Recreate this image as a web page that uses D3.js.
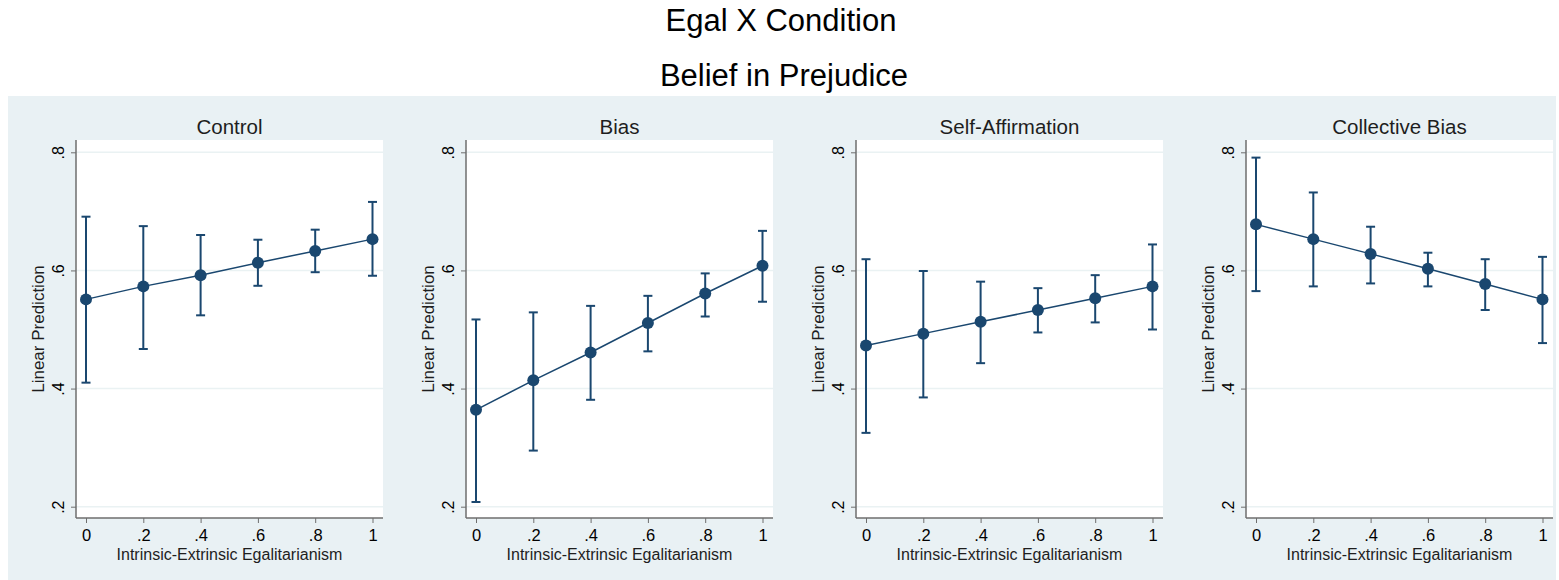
<!DOCTYPE html>
<html lang="en">
<head>
<meta charset="UTF-8">
<title>Egal X Condition</title>
<style>
  body { margin: 0; background: #fff; }
  text { font-family: "Liberation Sans", Arial, sans-serif; }
</style>
</head>
<body>
<script src="https://d3js.org/d3.v7.min.js"></script>
<script>
// values (Stata style)
var conditions = ["Control", "Bias", "Self-Affirmation", "Collective Bias"];
var egal = [0, 0.2, 0.4, 0.6, 0.8, 1];

var control   = [0.551, 0.573, 0.592, 0.613, 0.633, 0.653];
var controlLo = [0.410, 0.467, 0.524, 0.574, 0.597, 0.591];
var controlHi = [0.691, 0.675, 0.660, 0.652, 0.669, 0.716];

var bias   = [0.364, 0.414, 0.461, 0.511, 0.561, 0.608];
var biasLo = [0.208, 0.295, 0.381, 0.463, 0.522, 0.547];
var biasHi = [0.517, 0.529, 0.540, 0.557, 0.595, 0.667];

var selfAff   = [0.473, 0.493, 0.513, 0.533, 0.553, 0.573];
var selfAffLo = [0.325, 0.385, 0.443, 0.495, 0.512, 0.500];
var selfAffHi = [0.619, 0.599, 0.581, 0.570, 0.592, 0.644];

var collBias   = [0.678, 0.653, 0.628, 0.603, 0.577, 0.551];
var collBiasLo = [0.565, 0.573, 0.578, 0.573, 0.533, 0.477];
var collBiasHi = [0.791, 0.732, 0.674, 0.630, 0.619, 0.623];

var yTicks = [0.2, 0.4, 0.6, 0.8];
var xTicks = [0, 0.2, 0.4, 0.6, 0.8, 1];

var series = [
  {name: conditions[0], y: control,  lo: controlLo,  hi: controlHi},
  {name: conditions[1], y: bias,     lo: biasLo,     hi: biasHi},
  {name: conditions[2], y: selfAff,  lo: selfAffLo,  hi: selfAffHi},
  {name: conditions[3], y: collBias, lo: collBiasLo, hi: collBiasHi}
];

var W = 1559, H = 580;
var navy = "#1a476f";
var fmt = function(d) { return d == 0 ? "0" : d == 1 ? "1" : String(d).replace(/^0/, ""); };

var svg = d3.select("body").append("svg")
  .attr("width", W)
  .attr("height", H);

// graph region background
svg.append("rect")
  .attr("x", 8).attr("y", 96)
  .attr("width", 1548).attr("height", 484)
  .attr("fill", "#e9f1f4");

svg.append("text")
  .attr("x", 781).attr("y", 31)
  .attr("text-anchor", "middle")
  .attr("font-size", "31px")
  .text("Egal X Condition");

svg.append("text")
  .attr("x", 784).attr("y", 86)
  .attr("text-anchor", "middle")
  .attr("font-size", "31px")
  .text("Belief in Prejudice");

var plotTop = 140, plotBottom = 518, plotW = 307;

series.forEach(function(s, i) {
  var ax = 76 + 390 * i;
  var g = svg.append("g").attr("transform", "translate(" + ax + ",0)");

  var x = d3.scaleLinear().domain([0, 1]).range([10, 296.5]);
  var y = d3.scaleLinear().domain([0.2, 0.8]).range([506.7, 152.3]);

  var rows = egal.map(function(e, j) { return {x: e, y: s.y[j], lo: s.lo[j], hi: s.hi[j]}; });

  // plot region
  g.append("rect")
    .attr("x", 0).attr("y", plotTop)
    .attr("width", plotW).attr("height", plotBottom - plotTop)
    .attr("fill", "#fff");

  // gridlines
  g.selectAll(".grid")
    .data(yTicks)
    .enter()
    .append("line")
    .attr("x1", 0).attr("x2", plotW)
    .attr("y1", function(d) { return y(d); })
    .attr("y2", function(d) { return y(d); })
    .attr("stroke", "#eaf2f3")
    .attr("stroke-width", 1.5);

  // y axis
  var yAxis = g.append("g")
    .call(d3.axisLeft(y).tickValues(yTicks).tickFormat(fmt).tickSize(5));
  yAxis.select(".domain").remove();
  yAxis.selectAll(".tick line").attr("stroke", "#6e6e6e");
  yAxis.selectAll(".tick text")
    .attr("transform", "rotate(-90)")
    .attr("x", 0).attr("y", -12).attr("dy", 0)
    .attr("text-anchor", "middle")
    .attr("font-size", "16px")
    .attr("fill", "#000");

  // x axis
  var xAxis = g.append("g")
    .attr("transform", "translate(0," + plotBottom + ")")
    .call(d3.axisBottom(x).tickValues(xTicks).tickFormat(fmt).tickSize(5));
  xAxis.select(".domain").remove();
  xAxis.selectAll(".tick line").attr("stroke", "#6e6e6e");
  xAxis.selectAll(".tick text")
    .attr("y", 11).attr("dy", "0.71em")
    .attr("font-size", "16.5px")
    .attr("fill", "#000");

  // axis lines
  g.append("line")
    .attr("x1", 0).attr("x2", 0)
    .attr("y1", plotTop).attr("y2", plotBottom)
    .attr("stroke", "#6e6e6e").attr("stroke-width", 1.5);
  g.append("line")
    .attr("x1", 0).attr("x2", plotW)
    .attr("y1", plotBottom).attr("y2", plotBottom)
    .attr("stroke", "#6e6e6e").attr("stroke-width", 1.5);

  // titles
  g.append("text")
    .attr("x", plotW / 2).attr("y", 134)
    .attr("text-anchor", "middle")
    .attr("font-size", "20.5px")
    .attr("fill", "#1e1e1e")
    .text(s.name);

  g.append("text")
    .attr("transform", "translate(-32," + ((plotTop + plotBottom) / 2) + ") rotate(-90)")
    .attr("text-anchor", "middle")
    .attr("font-size", "17px")
    .attr("fill", "#1e1e1e")
    .text("Linear Prediction");

  g.append("text")
    .attr("x", plotW / 2).attr("y", 560)
    .attr("text-anchor", "middle")
    .attr("font-size", "16px")
    .attr("fill", "#1e1e1e")
    .text("Intrinsic-Extrinsic Egalitarianism");

  // confidence intervals
  g.selectAll(".ci")
    .data(rows)
    .enter()
    .append("line")
    .attr("x1", function(d) { return x(d.x); })
    .attr("x2", function(d) { return x(d.x); })
    .attr("y1", function(d) { return y(d.lo); })
    .attr("y2", function(d) { return y(d.hi); })
    .attr("stroke", navy).attr("stroke-width", 2);

  ["lo", "hi"].forEach(function(k) {
    g.selectAll(".cap-" + k)
      .data(rows)
      .enter()
      .append("line")
      .attr("x1", function(d) { return x(d.x) - 4.5; })
      .attr("x2", function(d) { return x(d.x) + 4.5; })
      .attr("y1", function(d) { return y(d[k]); })
      .attr("y2", function(d) { return y(d[k]); })
      .attr("stroke", navy).attr("stroke-width", 2);
  });

  // connecting line
  g.append("path")
    .datum(rows)
    .attr("fill", "none")
    .attr("stroke", navy)
    .attr("stroke-width", 1.5)
    .attr("d", d3.line()
      .x(function(d) { return x(d.x); })
      .y(function(d) { return y(d.y); }));

  g.selectAll(".pt")
    .data(rows)
    .enter()
    .append("circle")
    .attr("cx", function(d) { return x(d.x); })
    .attr("cy", function(d) { return y(d.y); })
    .attr("r", 6)
    .attr("fill", navy);
});
</script>
</body>
</html>
